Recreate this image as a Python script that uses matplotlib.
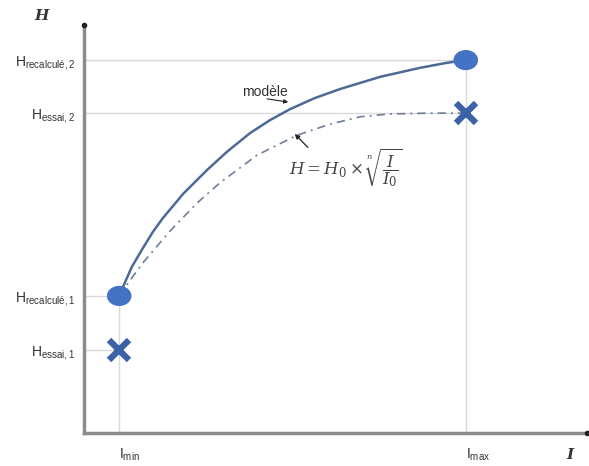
import matplotlib.pyplot as plt
from matplotlib.patches import Ellipse

# points of the schematic (arbitrary units, axes run 0..10)
I_min, I_max = 0.70, 7.59
H_ess1, H_rec1 = 2.03, 3.36
H_ess2, H_rec2 = 7.84, 9.14

# solid curve "modèle"
model_I = [0.70, 0.80, 0.95, 1.17, 1.37, 1.57, 1.97, 2.45, 2.84, 3.30, 3.70,
           4.10, 4.59, 5.09, 5.89, 6.68, 7.20, 7.59]
model_H = [3.36, 3.65, 4.07, 4.53, 4.93, 5.27, 5.86, 6.45, 6.89, 7.35, 7.67,
           7.94, 8.21, 8.43, 8.73, 8.95, 9.07, 9.14]

# dash-dot power law curve
law_I = [0.70, 0.92, 1.17, 1.71, 2.25, 2.70, 3.44, 4.24, 4.89, 5.49, 6.08, 6.88, 7.59]
law_H = [3.36, 3.75, 4.17, 4.95, 5.64, 6.13, 6.81, 7.30, 7.57, 7.75, 7.82, 7.84, 7.84]

h_labels = ['H$_{\\mathrm{essai,1}}$', 'H$_{\\mathrm{recalculé,1}}$',
            'H$_{\\mathrm{essai,2}}$', 'H$_{\\mathrm{recalculé,2}}$']
i_labels = ['I$_{\\mathrm{min}}$', 'I$_{\\mathrm{max}}$']

plt.rcParams['mathtext.fontset'] = 'custom'
plt.rcParams['mathtext.rm'] = 'Liberation Sans'
plt.rcParams['font.family'] = 'Liberation Sans'

fig = plt.figure(figsize=(5.89, 4.66), dpi=100)
ax = fig.add_axes([84/589, 33/466, 503/589, 408/466])
ax.set_xlim(0, 10)
ax.set_ylim(0, 10)

grid = '#dadada'
# guide lines
ax.plot([0, I_max], [H_rec2, H_rec2], color=grid, lw=1)
ax.plot([0, I_max], [H_ess2, H_ess2], color=grid, lw=1)
ax.plot([0, I_min], [H_rec1, H_rec1], color=grid, lw=1)
ax.plot([0, I_min], [H_ess1, H_ess1], color=grid, lw=1)
ax.plot([I_min, I_min], [0, H_rec1], color=grid, lw=1)
ax.plot([I_max, I_max], [0, H_rec2], color=grid, lw=1)

# curves
ax.plot(law_I, law_H, color='#6f7f99', lw=1.2, ls=(0, (5, 3, 1.2, 3)))
ax.plot(model_I, model_H, color='#4d6a96', lw=1.8)

# markers
ax.add_patch(Ellipse((I_min, H_rec1), 0.46, 0.46, color='#4472c4', zorder=5))
ax.add_patch(Ellipse((I_max, H_rec2), 0.46, 0.46, color='#4472c4', zorder=5))
ax.plot([I_min, I_max], [H_ess1, H_ess2], ls='none', marker='x', ms=14,
        mew=4.5, color='#3b62a6', zorder=5)

# axes
for s in ['top', 'right']:
    ax.spines[s].set_visible(False)
for s in ['left', 'bottom']:
    ax.spines[s].set_color('#8c8c8c')
    ax.spines[s].set_linewidth(2.5)
ax.plot([0], [10], marker='o', ms=3, color='#222222', clip_on=False, zorder=6)
ax.plot([10], [0], marker='o', ms=3, color='#222222', clip_on=False, zorder=6)

ax.set_yticks([H_ess1, H_rec1, H_ess2, H_rec2])
ax.set_yticklabels(h_labels, fontsize=10, color='#333333')
ax.set_xticks([I_min, I_max])
ax.set_xticklabels(i_labels, fontsize=10, color='#333333')
ax.tick_params(axis='y', length=0, pad=6)
ax.tick_params(axis='x', length=0, pad=10)
for lab in ax.get_xticklabels():
    lab.set_horizontalalignment('left')

fig.text(42/589, 1 - 16/466, 'H', family='DejaVu Serif', style='italic',
         weight='bold', fontsize=11, ha='center', va='center', color='#333333')
fig.text(570/589, 1 - 455/466, 'I', family='DejaVu Serif', style='italic',
         weight='bold', fontsize=11, ha='center', va='center', color='#333333')

# annotations
ax.text(3.6, 8.37, 'modèle', fontsize=10, color='#333333', ha='center', va='center')
ax.annotate('', xy=(4.06, 8.11), xytext=(3.64, 8.19),
            arrowprops=dict(arrowstyle='-|>', color='#222222', lw=0.8,
                            mutation_scale=6, shrinkA=0, shrinkB=0))
ax.annotate('', xy=(4.19, 7.33), xytext=(4.45, 7.0),
            arrowprops=dict(arrowstyle='-|>', color='#222222', lw=0.9,
                            mutation_scale=7, shrinkA=0, shrinkB=0))
ax.text(5.2, 6.5, '$H = H_0 \\times \\sqrt[n]{\\dfrac{I}{I_0}}$',
        fontsize=12, ha='center', va='center', color='#444444',
        math_fontfamily='dejavuserif')

fig.savefig('out.png', dpi=100)
